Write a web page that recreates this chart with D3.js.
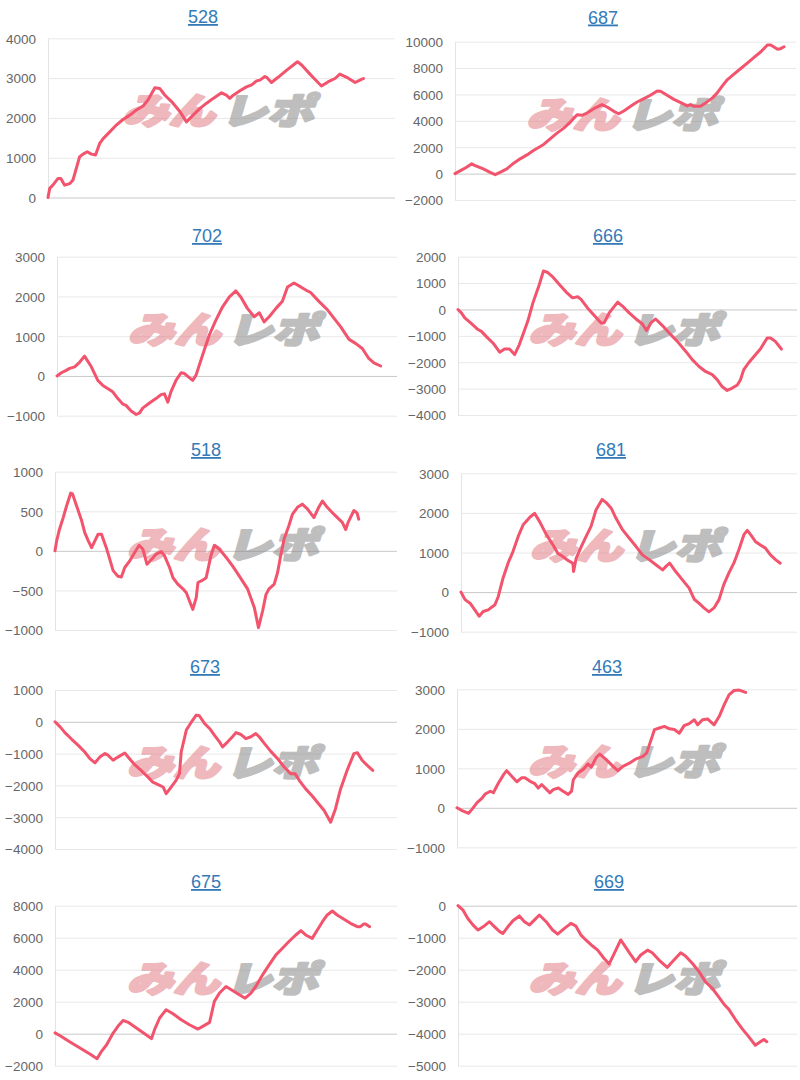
<!DOCTYPE html>
<html><head><meta charset="utf-8">
<script src="https://cdn.jsdelivr.net/npm/d3@7"></script>
<style>body{margin:0;background:#fff;} svg{display:block;}</style>
</head><body>
<svg id="chart" width="800" height="1080"></svg>
<script>
// ---------- DATA ----------
const titles = ["528","687","702","666","518","681","673","463","675","669"];

const ticks528 = [0,1000,2000,3000,4000];
const ticks687 = [-2000,0,2000,4000,6000,8000,10000];
const ticks702 = [-1000,0,1000,2000,3000];
const ticks666 = [-4000,-3000,-2000,-1000,0,1000,2000];
const ticks518 = [-1000,-500,0,500,1000];
const ticks681 = [-1000,0,1000,2000,3000];
const ticks673 = [-4000,-3000,-2000,-1000,0,1000];
const ticks463 = [-1000,0,1000,2000,3000];
const ticks675 = [-2000,0,2000,4000,6000,8000];
const ticks669 = [-5000,-4000,-3000,-2000,-1000,0];

// x = position along the period (0..100), y = cumulative value
const days528 = [0,0.5,1.4,2.9,3.7,4.8,6.3,7.2,9.1,10.1,11.3,12.5,13.7,14.9,15.9,17.8,19.7,21.6,23.6,25.5,27.4,28.8,30.8,32.2,33.7,35.6,38.0,39.9,41.8,43.8,45.7,47.6,50.0,51.4,52.4,53.4,55.3,57.2,58.7,60.1,61.1,62.5,63.0,64.4,66.3,68.8,70.7,71.9,73.1,75.5,76.9,78.8,80.8,82.7,84.1,86.1,88.5,89.9,90.9];
const vals528 = [0,230,310,480,480,310,350,440,1020,1090,1150,1090,1070,1360,1480,1650,1820,1960,2070,2200,2300,2450,2760,2740,2570,2410,2160,1900,2070,2240,2370,2490,2630,2570,2490,2570,2680,2780,2830,2930,2950,3040,3020,2890,3020,3200,3330,3410,3330,3100,2970,2800,2910,2990,3100,3020,2890,2950,2990];

const days687 = [0,2.0,3.4,4.9,5.9,8.3,10.3,11.8,13.2,15.2,17.2,19.1,21.1,23.0,26.0,27.9,29.9,31.9,33.8,35.8,37.2,38.7,40.7,43.1,44.6,46.6,48.0,49.5,51.5,53.4,55.4,57.3,59.3,60.3,62.2,64.2,66.2,68.1,69.1,70.1,72.0,73.5,75.5,76.9,78.4,79.9,81.8,83.8,85.8,87.7,89.7,91.6,92.6,94.6,95.6,96.5];
const vals687 = [0,280,480,740,610,360,100,-80,100,360,790,1120,1420,1750,2210,2640,3070,3450,3910,4470,4420,4590,4920,5230,5050,4720,4540,4750,5100,5430,5690,5940,6270,6240,5940,5630,5380,5130,5230,5100,5100,5360,5740,6120,6650,7130,7540,7970,8400,8810,9240,9750,9750,9420,9490,9620];

const days702 = [0,1.3,2.7,3.7,5.2,6.7,8.1,10.1,12.0,13.5,15.0,16.4,17.9,19.4,20.3,21.8,23.3,24.3,25.2,27.2,29.1,30.6,31.6,32.6,33.5,35.0,36.5,37.5,38.9,39.9,40.9,42.8,44.8,46.7,48.7,50.7,52.6,54.1,56.0,58.0,59.5,60.9,62.4,64.4,66.3,67.8,69.7,71.7,73.2,74.6,77.1,79.5,81.5,83.4,85.9,87.8,89.8,91.7,93.2,95.2];
const vals702 = [0,80,140,190,230,350,500,230,-110,-240,-320,-400,-570,-710,-740,-880,-970,-930,-810,-680,-570,-470,-450,-660,-400,-110,80,60,-40,-110,20,520,1030,1400,1740,1990,2140,1980,1700,1490,1590,1360,1490,1700,1880,2240,2340,2240,2160,2100,1870,1670,1450,1240,920,820,690,440,330,250];

const days666 = [0,1.0,2.0,3.9,5.9,6.9,8.3,10.3,12.3,13.7,15.2,16.7,18.1,20.6,22.1,24.0,25.2,26.5,27.9,29.9,31.9,33.8,35.3,36.3,38.2,40.2,42.2,43.1,44.6,47.1,48.5,50.5,52.5,54.4,55.6,56.9,58.3,60.3,62.3,64.7,67.2,69.1,71.1,73.0,75.0,76.5,77.9,79.4,80.9,82.4,83.3,84.3,85.8,87.3,89.2,91.2,92.2,93.6,95.4];
const vals666 = [0,-130,-320,-530,-760,-830,-1020,-1270,-1620,-1500,-1500,-1710,-1330,-440,250,950,1460,1400,1240,950,660,440,480,380,60,-230,-510,-510,-130,280,130,-130,-360,-550,-800,-510,-360,-610,-890,-1210,-1590,-1900,-2160,-2350,-2470,-2670,-2920,-3070,-2980,-2860,-2670,-2280,-2010,-1780,-1500,-1080,-1080,-1210,-1500];

const days518 = [0,0.5,1.3,2.4,3.4,4.6,5.1,6.3,7.8,8.7,9.7,10.7,11.7,12.6,13.6,15.0,17.0,18.4,19.4,20.4,21.8,23.3,24.6,25.7,26.9,28.2,29.6,31.1,32.0,33.5,34.5,35.9,37.4,38.4,39.3,40.3,41.3,41.8,43.2,44.2,45.6,46.6,48.1,50.0,51.9,53.9,56.3,58.3,59.5,60.7,61.7,62.6,64.1,65.1,66.0,67.0,68.4,69.4,70.9,72.3,73.8,75.7,77.0,78.2,79.6,81.6,84.0,85.0,85.7,87.4,88.3,88.8];
const vals518 = [0,130,270,420,570,730,720,570,380,230,130,40,130,210,210,40,-250,-320,-330,-210,-130,-20,70,20,-170,-110,-40,-10,-60,-210,-340,-420,-480,-530,-630,-740,-590,-400,-370,-340,-60,70,20,-80,-190,-320,-480,-720,-970,-760,-550,-480,-420,-270,-60,150,320,460,550,590,530,420,540,630,550,460,360,270,360,510,480,400];

const days681 = [0,1.2,2.7,4.1,5.4,6.6,8.1,10.1,11.1,12.5,14.0,15.5,17.0,18.5,20.5,21.9,23.4,25.4,27.4,28.8,30.3,31.8,33.3,33.5,34.3,35.8,37.2,38.7,40.2,42.0,43.2,44.7,46.1,48.1,50.1,52.1,54.0,56.0,58.0,60.0,61.0,62.1,63.9,65.9,67.9,69.4,70.8,72.3,73.8,75.3,76.8,78.2,79.7,81.2,82.7,84.2,85.2,86.2,87.6,89.1,90.6,92.1,93.6,95.0];
const vals681 = [0,-190,-280,-450,-610,-490,-450,-320,-110,350,730,1030,1400,1700,1890,1990,1780,1450,1190,980,900,800,730,520,860,1150,1400,1660,2080,2340,2260,2120,1870,1570,1360,1150,940,820,690,560,650,730,520,310,100,-180,-280,-400,-500,-400,-190,190,480,730,1070,1450,1560,1450,1280,1190,1110,940,820,730];

const days673 = [0,1.5,2.9,4.9,6.8,8.7,10.2,11.7,13.1,14.6,15.5,17.0,18.4,20.4,21.8,23.3,25.2,27.2,28.6,30.6,31.6,32.5,34.0,35.4,36.4,36.9,38.4,39.8,41.3,42.2,43.7,45.2,46.6,48.1,49.0,50.5,51.9,52.9,54.4,55.8,57.3,58.7,59.7,61.2,63.1,65.1,67.0,68.9,70.2,71.4,73.3,75.3,76.7,78.7,80.6,82.0,83.5,85.4,87.4,88.4,89.8,91.3,92.9];
const vals673 = [0,-160,-340,-550,-740,-950,-1160,-1290,-1110,-1000,-1050,-1210,-1110,-980,-1160,-1350,-1530,-1740,-1900,-2000,-2050,-2260,-2050,-1840,-1630,-950,-260,-20,210,190,-50,-210,-420,-630,-790,-630,-470,-340,-400,-530,-470,-370,-470,-680,-930,-1160,-1420,-1630,-1630,-1840,-2110,-2340,-2530,-2790,-3160,-2740,-2110,-1530,-1000,-970,-1210,-1370,-1530];

const days463 = [0,1.5,3.4,4.4,5.9,7.3,8.3,9.8,10.7,12.2,13.7,14.6,16.1,17.6,19.0,20.0,21.5,22.9,23.9,24.9,26.4,27.3,28.3,29.8,31.2,32.7,33.7,34.2,35.6,37.1,38.5,39.5,41.0,42.0,43.9,45.9,47.3,48.8,50.7,52.7,54.7,55.8,56.6,58.1,59.5,61.0,62.5,63.9,65.4,66.8,68.3,69.8,70.8,72.2,73.7,75.6,77.1,78.6,80.0,81.5,83.0,84.9];
const vals463 = [0,-70,-140,-40,130,240,350,420,380,630,840,940,800,660,760,760,670,610,500,590,460,380,460,500,420,340,420,710,880,970,1110,1030,1280,1360,1220,1050,940,1050,1130,1240,1300,1390,1600,1980,2020,2060,2000,1980,1890,2080,2130,2230,2100,2230,2250,2100,2310,2610,2860,2970,2980,2920];

const days675 = [0,1.5,4.4,7.3,10.2,12.3,13.6,15.1,17.0,18.4,19.9,21.4,23.8,26.2,28.2,29.1,30.6,32.5,34.5,36.9,39.3,41.8,43.2,45.2,46.6,48.1,50.0,51.9,53.9,55.6,57.3,58.7,60.7,62.6,64.6,66.5,68.4,70.4,71.9,73.3,75.2,76.7,78.2,79.6,81.1,82.5,84.5,86.4,88.4,89.3,90.3,90.8,92.0];
const vals675 = [50,-130,-520,-890,-1270,-1560,-1100,-690,40,460,830,710,350,0,-310,250,980,1500,1250,870,560,290,460,710,2020,2540,2950,2700,2430,2220,2540,2950,3680,4300,4930,5340,5760,6170,6440,6170,5960,6480,7000,7420,7670,7420,7150,6900,6690,6690,6860,6860,6690];

const days669 = [0,1.5,2.9,4.4,5.9,7.4,9.3,10.8,12.3,13.2,14.7,16.2,18.1,19.6,21.1,22.5,24.0,26.0,27.9,29.4,31.4,33.3,34.8,36.3,37.7,39.7,41.2,43.1,44.6,46.1,48.0,49.5,51.0,52.4,53.9,55.9,57.3,59.3,61.7,63.7,65.7,67.1,69.1,71.1,73.0,75.0,76.9,78.4,79.9,81.8,83.8,85.8,87.7,89.2,90.2,91.1];
const vals669 = [0,-140,-400,-600,-760,-660,-500,-660,-810,-870,-660,-470,-320,-500,-600,-450,-290,-500,-760,-890,-710,-550,-640,-920,-1070,-1260,-1390,-1650,-1820,-1490,-1070,-1300,-1540,-1750,-1540,-1390,-1470,-1700,-1930,-1700,-1470,-1570,-1800,-2060,-2380,-2580,-2850,-3070,-3240,-3550,-3840,-4100,-4360,-4250,-4180,-4250];

const seriesDays = [days528,days687,days702,days666,days518,days681,days673,days463,days675,days669];
const seriesVals = [vals528,vals687,vals702,vals666,vals518,vals681,vals673,vals463,vals675,vals669];
const seriesTicks = [ticks528,ticks687,ticks702,ticks666,ticks518,ticks681,ticks673,ticks463,ticks675,ticks669];

// ---------- LAYOUT (pixels) ----------
const layout = [
  {left:48,  right:395, top:38.3,  bottom:197.5, tx:203, ty:23},
  {left:455, right:796, top:41.7,  bottom:200,   tx:603, ty:23.5},
  {left:57,  right:397, top:256.7, bottom:415.7, tx:207, ty:242},
  {left:458, right:797, top:256.7, bottom:415,   tx:608, ty:242},
  {left:55,  right:397, top:471.7, bottom:630,   tx:206, ty:456},
  {left:461, right:797, top:473.3, bottom:631.7, tx:611, ty:456},
  {left:55,  right:397, top:690,   bottom:849,   tx:205, ty:673},
  {left:457, right:797, top:689.3, bottom:847.3, tx:607, ty:673},
  {left:55,  right:397, top:905.7, bottom:1065.7,tx:206, ty:888},
  {left:458, right:797, top:905.7, bottom:1065.7,tx:609, ty:888}
];

const svg = d3.select("#chart");
const FONT = "'Liberation Sans', Arial, Helvetica, sans-serif";
const LINE_COLOR = "rgb(242,84,110)";

titles.forEach((title, i) => {
  const L = layout[i];
  const ticks = seriesTicks[i];
  const data = d3.zip(seriesDays[i], seriesVals[i]);
  const x = d3.scaleLinear().domain([0, 100]).range([L.left, L.right]);
  const y = d3.scaleLinear().domain(d3.extent(ticks)).range([L.bottom, L.top]);
  const g = svg.append("g");

  // title
  g.append("text")
    .attr("x", L.tx).attr("y", L.ty)
    .attr("text-anchor", "middle")
    .attr("font-family", FONT).attr("font-size", 18)
    .attr("fill", "#337ab7")
    .style("text-decoration", "underline")
    .text(title);

  // y axis with gridlines
  const ax = g.append("g")
    .attr("transform", `translate(${L.left},0)`)
    .call(d3.axisLeft(y).tickValues(ticks).tickSize(-(L.right - L.left)).tickSizeOuter(0).tickPadding(12).tickFormat(d3.format("d")));
  ax.attr("font-family", FONT).attr("font-size", 13.5);
  ax.select(".domain").attr("stroke", "#e3e3e3").attr("stroke-width", 1);
  ax.selectAll(".tick line")
    .attr("stroke", d => d === 0 ? "#c9c9c9" : "#e8e8e8")
    .attr("stroke-width", 1);
  ax.selectAll(".tick text").attr("fill", "#666").attr("dy", "0.36em");

  // watermark
  const wm = g.append("g")
    .attr("opacity", 0.55)
    .attr("transform", `translate(${(L.left + L.right) / 2},${L.top + 70}) skewX(-16) scale(1.05,0.82)`);
  wm.append("text")
    .attr("x", -2).attr("y", 0)
    .attr("text-anchor", "end").attr("dominant-baseline", "central")
    .attr("font-family", "'Noto Sans CJK JP', sans-serif").attr("font-weight", 900)
    .attr("font-size", 44)
    .attr("fill", "#e17f86").attr("stroke", "#e17f86").attr("stroke-width", 3.2)
    .attr("stroke-linejoin", "round")
    .text("みん");
  wm.append("text")
    .attr("x", 4).attr("y", 0)
    .attr("text-anchor", "start").attr("dominant-baseline", "central")
    .attr("font-family", "'Noto Sans CJK JP', sans-serif").attr("font-weight", 900)
    .attr("font-size", 44)
    .attr("fill", "#8a8a8a").attr("stroke", "#8a8a8a").attr("stroke-width", 3.2)
    .attr("stroke-linejoin", "round")
    .text("レポ");

  // line
  g.append("path")
    .datum(data)
    .attr("fill", "none")
    .attr("stroke", LINE_COLOR)
    .attr("stroke-width", 3)
    .attr("stroke-linejoin", "round")
    .attr("stroke-linecap", "round")
    .attr("d", d3.line().x(d => x(d[0])).y(d => y(d[1])));
});
</script>
</body></html>
